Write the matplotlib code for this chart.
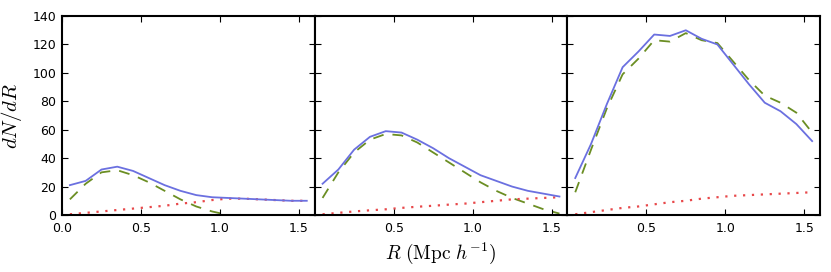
import matplotlib
matplotlib.use("Agg")
import matplotlib.pyplot as plt
from matplotlib.ticker import FormatStrFormatter

R = [0.05, 0.15, 0.25, 0.35, 0.45, 0.55, 0.65, 0.75, 0.85, 0.95, 1.05, 1.15, 1.25, 1.35, 1.45, 1.55]

total_1 = [21, 24, 32, 34, 31, 26, 21, 17, 14, 12.5, 12, 11.5, 11, 10.5, 10, 10]
sat_1 = [11, 22, 30, 31.5, 28, 23, 17, 11, 6, 2.5, 0, 0, 0, 0, 0, 0]
bg_1 = [0.5, 1.5, 2.5, 3.5, 4.5, 5.5, 6.5, 8, 9, 10.5, 11.5, 11.5, 11, 10.5, 10, 10]

total_2 = [22, 32, 46, 55, 59, 58, 53, 47, 40, 34, 28, 24, 20, 17, 15, 13]
sat_2 = [12, 30, 44, 53, 57, 56, 51, 44, 37, 30, 23, 17, 12, 8, 4, 1]
bg_2 = [0.5, 1.5, 2.5, 3.3, 4, 5, 5.8, 6.5, 7.3, 8, 9, 10, 11, 11.5, 12, 12.5]

total_3 = [26, 50, 78, 104, 115, 127, 126, 130, 124, 120, 106, 92, 79, 73, 64, 52]
sat_3 = [16, 46, 75, 99, 110, 123, 122, 128, 123, 121, 108, 95, 84, 79, 72, 58]
bg_3 = [0.5, 2, 3.5, 5, 6, 7.5, 9, 10, 11.5, 12.5, 13.5, 14, 14.5, 15, 15.5, 16]

panels = [(total_1, sat_1, bg_1), (total_2, sat_2, bg_2), (total_3, sat_3, bg_3)]

plt.rcParams['mathtext.fontset'] = 'cm'
fig, axes = plt.subplots(1, 3, figsize=(8.31, 2.72), dpi=100, sharey=True)
fig.subplots_adjust(left=0.0746, right=0.9868, bottom=0.2096, top=0.941, wspace=0)

for i, (ax, (tot, sat, bg)) in enumerate(zip(axes, panels)):
    ax.plot(R, tot, color='#6b70e0', lw=1.3, zorder=2)
    ax.plot(R, sat, color='#6b8e23', lw=1.3, ls=(0, (6, 5)), zorder=1.5)
    ax.plot(R, bg, color='#e8484a', lw=1.6, ls=(0, (1, 3)), zorder=1.5)
    ax.set_xlim(0, 1.6)
    ax.set_ylim(0, 140)
    if i == 0:
        ax.set_xticks([0.0, 0.5, 1.0, 1.5])
    else:
        ax.set_xticks([0.5, 1.0, 1.5])
    ax.xaxis.set_major_formatter(FormatStrFormatter('%.1f'))
    ax.set_yticks([0, 20, 40, 60, 80, 100, 120, 140])
    ax.tick_params(direction='in', top=True, right=True, length=4, width=0.8,
                   labelsize=9)
    ax.tick_params(axis='x', pad=5)
    ax.tick_params(axis='y', pad=4)
    for s in ax.spines.values():
        s.set_linewidth(1.5)
        s.set_zorder(3)

axes[0].set_ylabel(r'$dN/dR$', fontsize=15, labelpad=6)
axes[1].set_xlabel(r'$R\ (\mathrm{Mpc}\ h^{-1})$', fontsize=14, labelpad=4)

fig.savefig('out.png', dpi=100)
